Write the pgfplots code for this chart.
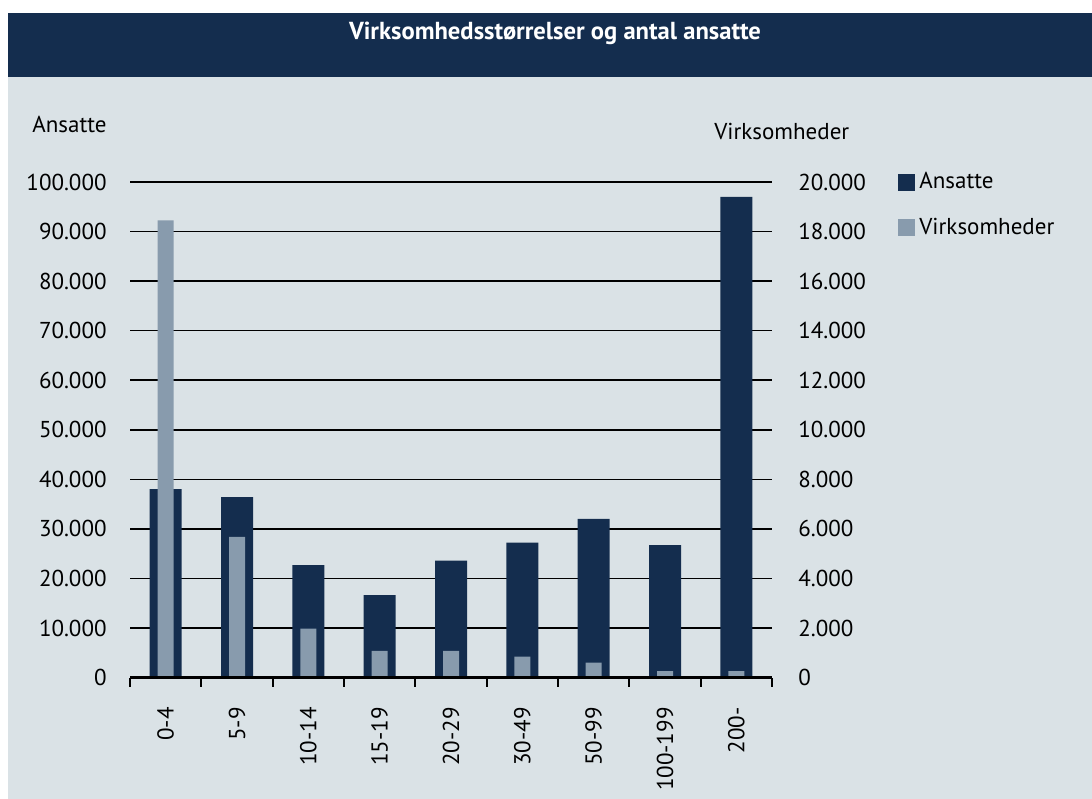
\documentclass[border=0pt]{standalone}
\usepackage{pgfplots}
\pgfplotsset{compat=1.18}
\usepackage{fontspec}
\setmainfont{PT Sans}
\definecolor{navy}{HTML}{142D4E}
\definecolor{lightbar}{HTML}{889BAD}
\definecolor{panel}{HTML}{DAE2E6}
\newcommand\fs{\fontsize{11.5bp}{13bp}\selectfont}
\pgfplotsset{
  /pgf/number format/.cd, fixed, precision=0, 1000 sep={.}, assume math mode=true,
}
\pgfplotsset{
  ybar legend/.style={legend image code/.code={\fill[##1] (0bp,-4.25bp) rectangle (8.5bp,4.25bp);}},
  common/.style={
    at={(65bp,-338.75bp)}, anchor=south west,
    scale only axis, width=321bp, height=247.75bp,
    xmin=-0.5, xmax=8.5, ymin=0,
    axis x line*=bottom,
    x axis line style={line width=1.6bp, black},
    y axis line style={draw=none},
    xtick={0,...,8},
    major x tick style={draw=none},
    minor xtick={-0.5,0.5,...,8.5},
    xtick align=outside,
    minor tick length=4.5bp,
    minor x tick style={line width=1bp, black},
    major y tick style={draw=none},
    scaled y ticks=false,
    yticklabel={\pgfmathprintnumber[fixed,precision=0,1000 sep={.},assume math mode=true]{\tick}},
    ybar, bar shift=0pt,
    tick label style={font=\fs},
  },
}
\begin{document}
\begin{tikzpicture}
\begin{scope}[x=0.5bp,y=-0.5bp]
\useasboundingbox (0,0) rectangle (1092,799);
\fill[white] (0,0) rectangle (1092,799);
\fill[panel] (8,13) rectangle (1092,799);
\fill[navy] (8,13) rectangle (1092,77);
\node[white, font=\fontsize{12.3bp}{14bp}\selectfont\bfseries] at (555,33) {Virksomhedsstørrelser og antal ansatte};
\node[anchor=west, inner sep=0pt, font=\fs] at (32,124) {Ansatte};
\node[anchor=west, inner sep=0pt, font=\fs] at (714,131) {Virksomheder};
\end{scope}

\begin{axis}[common,
  ymax=100000,
  axis y line*=left,
  ytick={0,10000,...,100000},
  ymajorgrids, grid style={line width=0.8bp, black},
  yticklabel style={inner sep=0pt, anchor=east, xshift=-11.5bp},
  xticklabels={0-4,5-9,10-14,15-19,20-29,30-49,50-99,100-199,200-},
  xticklabel style={rotate=90, anchor=east, inner sep=0pt},
  xticklabel shift=10.5bp,
  bar width=16bp,
]
\addplot[fill=navy, draw=none] coordinates {(0,38000) (1,36400) (2,22700) (3,16650) (4,23600) (5,27200) (6,32000) (7,26700) (8,97000)};
\end{axis}

\begin{axis}[common,
  ymax=20000,
  axis y line*=right,
  ytick={0,2000,...,20000},
  yticklabel style={inner sep=0pt, anchor=west, xshift=13bp},
  xticklabels={},
  axis on top,
  bar width=8bp,
  legend style={at={(1.1963,1.028)}, anchor=north west, draw=none, fill=none, font=\fs, inner sep=0pt, row sep=9bp},
  legend cell align=left,
]
\addlegendimage{fill=navy, draw=none, ybar legend}
\addlegendentry{Ansatte}
\addplot[fill=lightbar, draw=none] coordinates {(0,18450) (1,5680) (2,1970) (3,1080) (4,1080) (5,840) (6,600) (7,262) (8,262)};
\addlegendentry{Virksomheder}
\end{axis}
\end{tikzpicture}
\end{document}
